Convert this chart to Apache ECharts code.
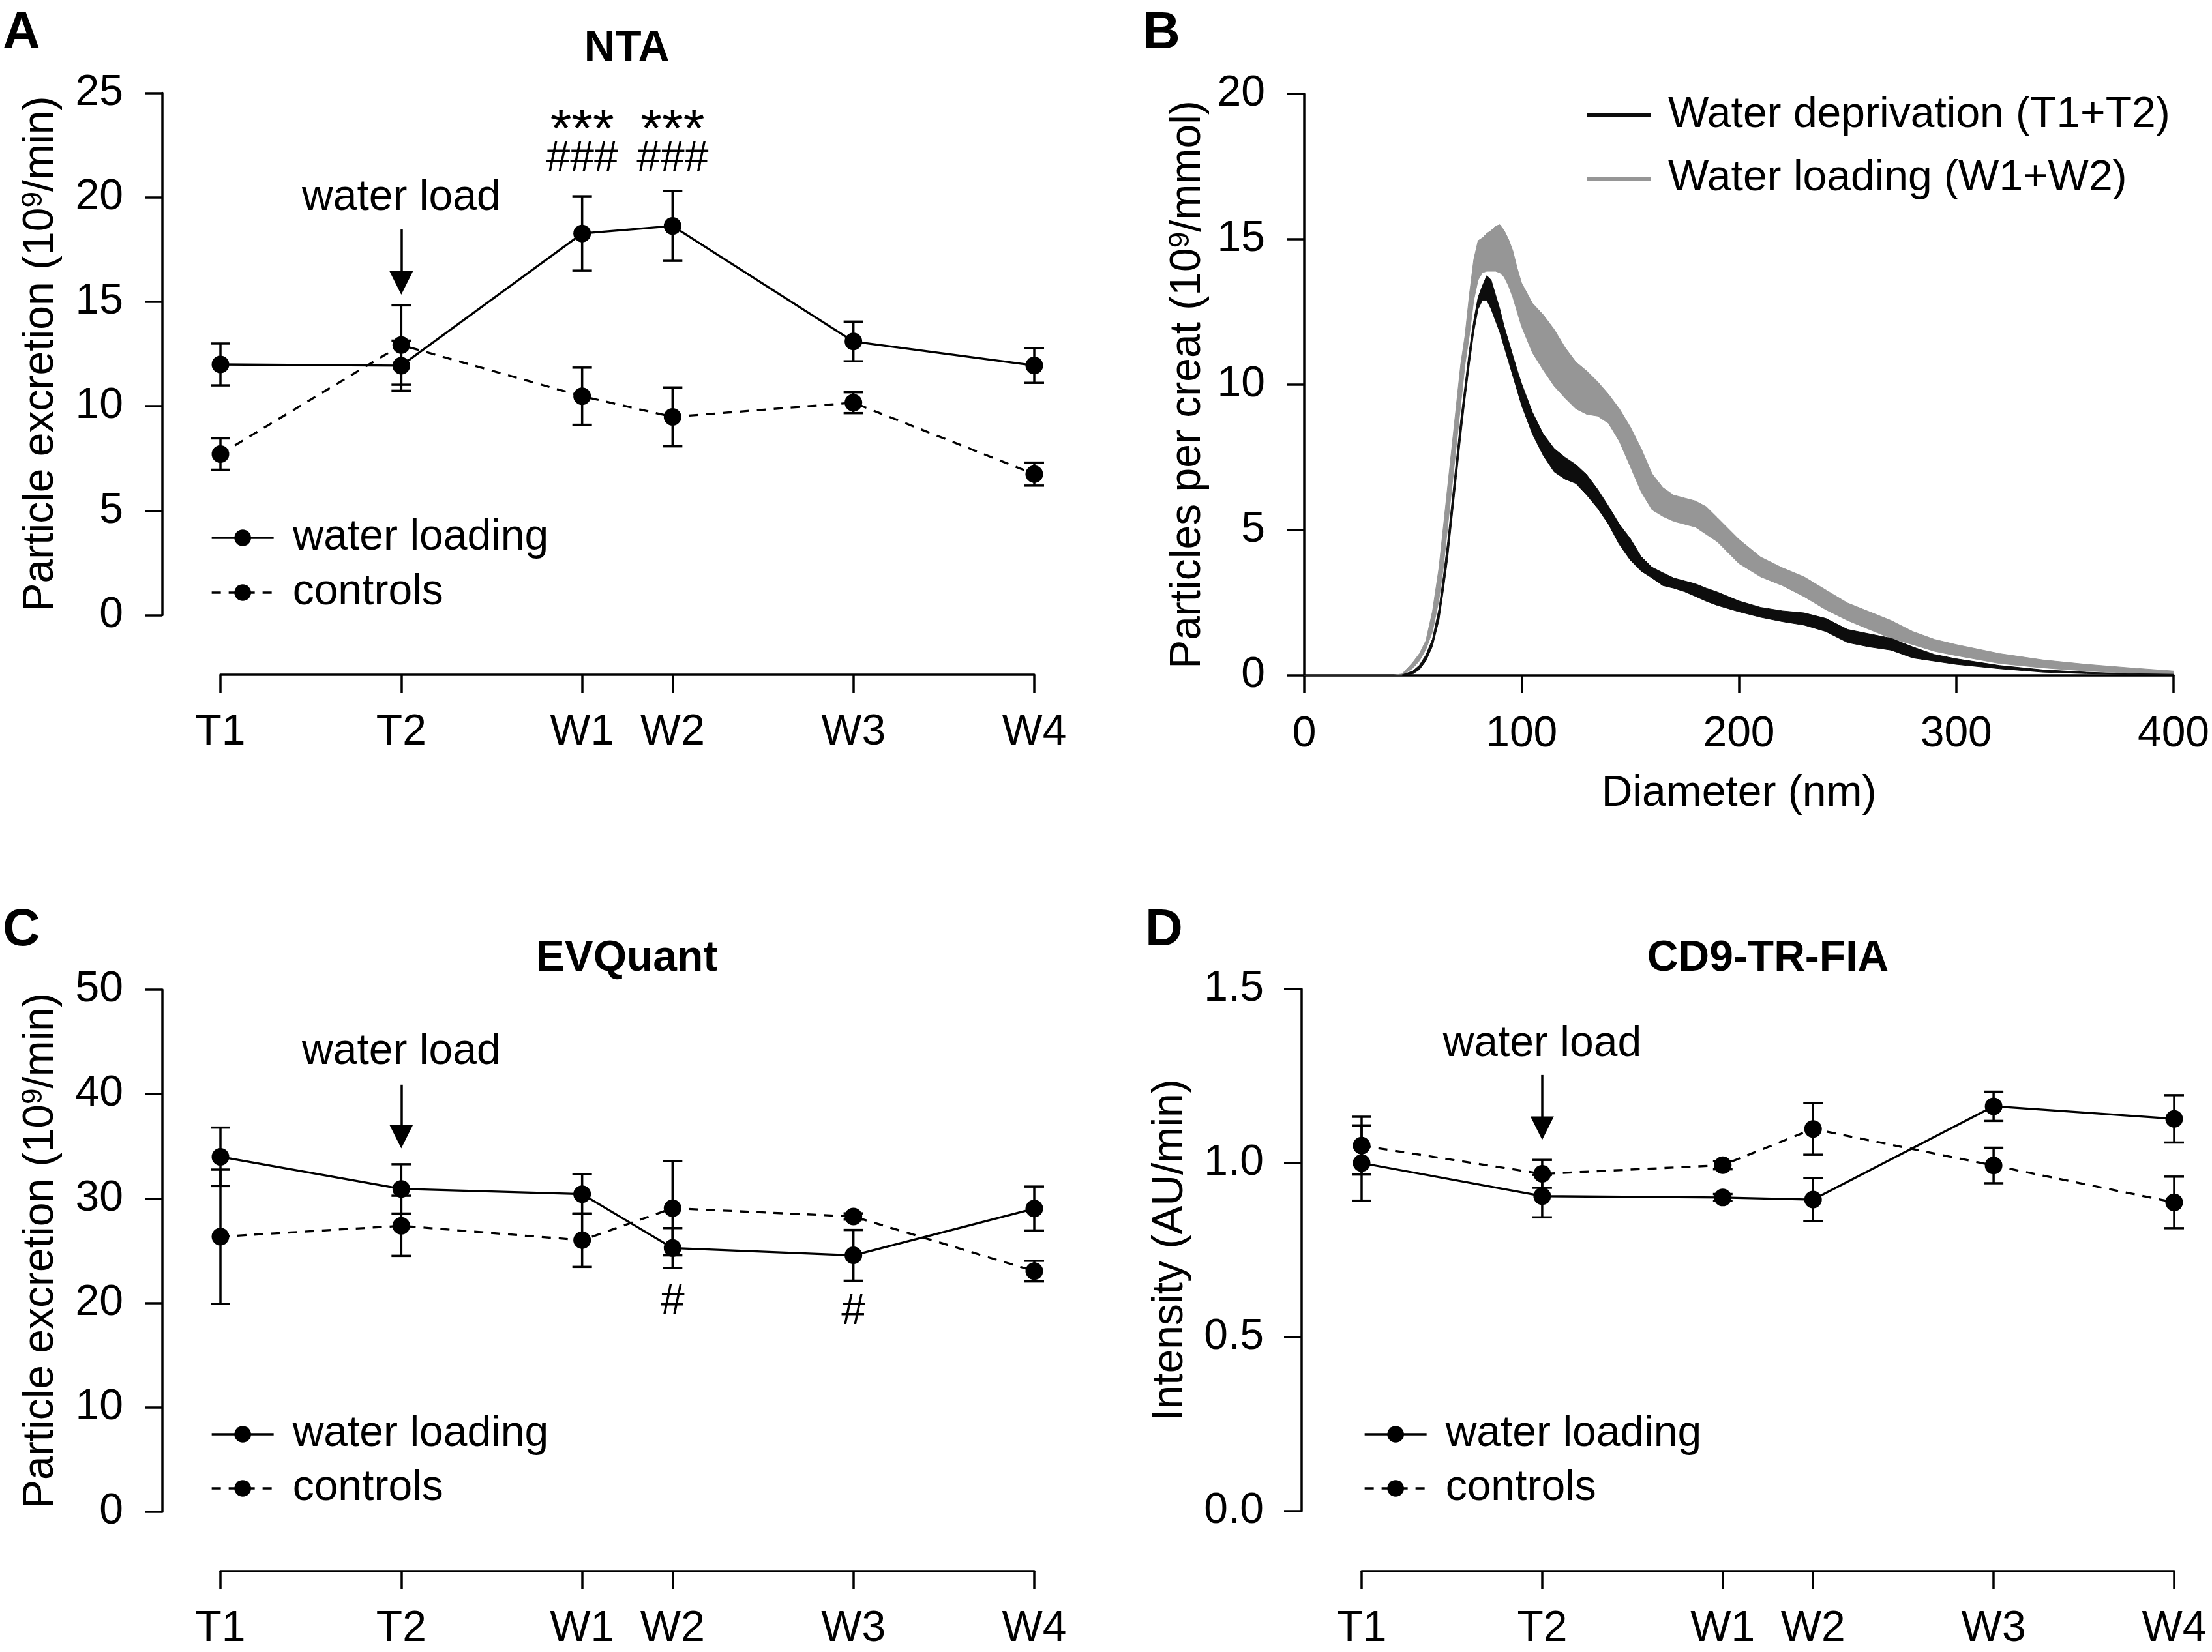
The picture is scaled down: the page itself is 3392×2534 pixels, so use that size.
<!DOCTYPE html>
<html>
<head>
<meta charset="utf-8">
<title>Urinary EV excretion</title>
<script src="https://cdn.jsdelivr.net/npm/echarts@6/dist/echarts.min.js"></script>
<style>
  html, body { margin: 0; padding: 0; background: #fff; }
  #chart { width: 3392px; height: 2534px; }
</style>
</head>
<body>
<div id="chart"></div>
<script>
// sampling points, x position follows the sampling schedule
const timeLabels = ['T1', 'T2', 'W1', 'W2', 'W3', 'W4']
const timePos = [0, 1, 2, 2.5, 3.5, 4.5]

// A - NTA, particle excretion (10^9/min), mean and SEM
const ntaWater = [12.0, 11.94, 18.27, 18.63, 13.1, 11.95]
const ntaWaterSem = [1.0, 1.2, 1.78, 1.67, 0.95, 0.83]
const ntaCtrl = [7.71, 12.93, 10.48, 9.49, 10.17, 6.75]
const ntaCtrlSem = [0.75, 1.9, 1.37, 1.41, 0.5, 0.55]

// C - EVQuant
const evqWater = [33.99, 30.92, 30.42, 25.26, 24.56, 29.04]
const evqWaterSem = [2.8, 2.36, 1.91, 1.91, 2.43, 2.1]
const evqCtrl = [26.35, 27.39, 26.01, 29.07, 28.28, 23.05]
const evqCtrlSem = [6.42, 2.88, 2.56, 4.51, 0.3, 0.99]

// D - CD9-TR-FIA, intensity (AU/min)
const cd9Water = [1.0, 0.905, 0.901, 0.895, 1.163, 1.127]
const cd9WaterSem = [0.108, 0.061, 0.01, 0.062, 0.042, 0.068]
const cd9Ctrl = [1.05, 0.969, 0.994, 1.098, 0.993, 0.887]
const cd9CtrlSem = [0.083, 0.04, 0.012, 0.074, 0.051, 0.074]

// B - size distribution, particles per creat (10^9/mmol), band = mean +/- SEM
const diameter = [0, 40, 45, 50, 53, 56, 59, 62, 64, 66,
  68, 70, 72, 74, 76, 78, 80, 82, 84, 86,
  88, 90, 92, 94, 96, 98, 100, 105, 110, 115,
  120, 125, 130, 135, 140, 145, 150, 155, 160, 165,
  170, 175, 180, 185, 190, 200, 210, 220, 230, 240,
  250, 260, 270, 280, 290, 300, 320, 340, 360, 380, 400]
const loadHigh = [0, 0, 0.05, 0.45, 0.75, 1.2, 2.2, 3.7, 5.1, 6.5,
  7.9, 9.3, 10.7, 11.7, 13.1, 14.3, 14.95, 15.05, 15.2, 15.3,
  15.45, 15.5, 15.3, 15.0, 14.6, 14.0, 13.5, 12.8, 12.4, 11.9,
  11.28, 10.78, 10.47, 10.1, 9.67, 9.17, 8.55, 7.81, 6.94, 6.46,
  6.2, 6.1, 6.0, 5.8, 5.43, 4.68, 4.07, 3.7, 3.39, 2.94,
  2.49, 2.19, 1.89, 1.51, 1.24, 1.06, 0.75, 0.53, 0.38, 0.26, 0.15]
const loadLow = [0, 0, 0, 0.25, 0.5, 0.9, 1.5, 2.6, 3.7, 5.1,
  6.5, 7.9, 9.3, 10.7, 11.7, 12.9, 13.6, 13.85, 13.9, 13.9,
  13.9, 13.85, 13.7, 13.4, 13.0, 12.5, 12.0, 11.1, 10.5, 9.95,
  9.54, 9.17, 8.98, 8.92, 8.67, 8.05, 7.19, 6.32, 5.7, 5.47,
  5.3, 5.2, 5.1, 4.85, 4.6, 3.85, 3.39, 3.09, 2.71, 2.26,
  1.89, 1.58, 1.28, 1.06, 0.83, 0.68, 0.41, 0.26, 0.15, 0.08, 0.02]
const depHigh = [0, 0, 0.02, 0.15, 0.35, 0.7, 1.25, 2.3, 3.4, 4.6,
  6.0, 7.4, 8.8, 10.0, 11.2, 12.2, 13.0, 13.4, 13.75, 13.6,
  13.1, 12.6, 12.0, 11.5, 11.0, 10.5, 10.04, 9.05, 8.3, 7.8,
  7.5, 7.25, 6.9, 6.4, 5.82, 5.2, 4.71, 4.09, 3.72, 3.53,
  3.35, 3.25, 3.15, 3.0, 2.87, 2.56, 2.34, 2.22, 2.15, 1.96,
  1.58, 1.43, 1.28, 0.98, 0.72, 0.57, 0.34, 0.19, 0.11, 0.06, 0.04]
const depLow = [0, 0, 0, 0.05, 0.2, 0.5, 1.0, 1.9, 2.9, 4.0,
  5.4, 6.8, 8.2, 9.5, 10.7, 11.8, 12.6, 12.9, 12.9, 12.6,
  12.2, 11.8, 11.3, 10.8, 10.3, 9.8, 9.29, 8.3, 7.56, 7.0,
  6.75, 6.6, 6.2, 5.75, 5.2, 4.5, 3.97, 3.59, 3.35, 3.09,
  3.0, 2.88, 2.72, 2.55, 2.41, 2.19, 2.0, 1.85, 1.73, 1.51,
  1.13, 0.98, 0.87, 0.6, 0.49, 0.38, 0.23, 0.11, 0.06, 0.03, 0.02]

// annotations: [text, x, y (data units), font size]
const ntaArrow = [[1, 18.46], [1, 15.9]]
const ntaNotes = [['water load', 1, 19.97], ['***', 2, 23.11, 84], ['***', 2.5, 23.11, 84], ['###', 2, 21.85], ['###', 2.5, 21.85]]
const evqArrow = [[1, 40.9], [1, 35.92]]
const evqNotes = [['water load', 1, 44.0], ['#', 2.5, 20.05], ['#', 3.5, 19.1]]
const cd9Arrow = [[1, 1.253], [1, 1.10]]
const cd9Notes = [['water load', 1, 1.342]]

const FONT = '"Liberation Sans", Arial, Helvetica, sans-serif'
const FS = 66
const LW = 3.5

function pairs(xs, ys) {
  return xs.map((x, i) => [x, ys[i]])
}

function errData(mean, sem) {
  return timePos.map((x, i) => [x, mean[i] - sem[i], mean[i] + sem[i]])
}

function renderErr(params, api) {
  const x = api.value(0)
  const top = api.coord([x, api.value(2)])
  const bot = api.coord([x, api.value(1)])
  const half = 15
  const style = { stroke: '#000', lineWidth: LW }
  return {
    type: 'group',
    children: [
      { type: 'line', shape: { x1: top[0], y1: top[1], x2: bot[0], y2: bot[1] }, style: style },
      { type: 'line', shape: { x1: top[0] - half, y1: top[1], x2: top[0] + half, y2: top[1] }, style: style },
      { type: 'line', shape: { x1: bot[0] - half, y1: bot[1], x2: bot[0] + half, y2: bot[1] }, style: style }
    ]
  }
}

// whole band as one polygon, drawn once from the first item
function renderBand(params, api) {
  if (params.dataIndexInside !== 0) return null
  const n = params.dataInsideLength
  const upper = []
  const lower = []
  for (let i = 0; i < n; i++) {
    const x = api.value(0, i)
    upper.push(api.coord([x, api.value(2, i)]))
    lower.unshift(api.coord([x, api.value(1, i)]))
  }
  const color = api.visual('color')
  return {
    type: 'polygon',
    shape: { points: upper.concat(lower) },
    style: { fill: color, stroke: color, lineWidth: 1 }
  }
}

function timeX(gi, offset) {
  return {
    type: 'value', gridIndex: gi, min: 0, max: 4.5, offset: offset,
    axisLine: { show: true, onZero: false, lineStyle: { color: '#000', width: LW } },
    axisTick: { show: true, length: 28, customValues: timePos, lineStyle: { color: '#000', width: LW } },
    axisLabel: {
      customValues: timePos, fontSize: FS, color: '#000', fontFamily: FONT, margin: 56,
      formatter: v => timeLabels[timePos.indexOf(v)]
    },
    splitLine: { show: false }
  }
}

function valueY(gi, max, interval, name, gap, offset, digits, margin) {
  return {
    type: 'value', gridIndex: gi, min: 0, max: max, interval: interval, offset: offset,
    name: name, nameLocation: 'middle', nameGap: gap, nameMoveOverlap: false,
    nameTextStyle: {
      fontSize: FS, color: '#000', fontFamily: FONT,
      rich: { sup: { fontSize: 44, color: '#000', fontFamily: FONT, verticalAlign: 'top' } }
    },
    axisLine: { show: true, onZero: false, lineStyle: { color: '#000', width: LW } },
    axisTick: { show: true, length: 27, lineStyle: { color: '#000', width: LW } },
    axisLabel: { fontSize: FS, color: '#000', fontFamily: FONT, margin: margin, formatter: v => v.toFixed(digits) },
    splitLine: { show: false }
  }
}

function notes(list) {
  return {
    silent: true, animation: false,
    symbol: 'circle', symbolSize: 1,
    itemStyle: { color: 'rgba(0,0,0,0)' },
    label: { show: true, position: 'inside', color: '#000', fontSize: FS, fontFamily: FONT, formatter: p => p.name },
    data: list.map(n => ({ name: n[0], coord: [n[1], n[2]], label: { fontSize: n[3] || FS } }))
  }
}

function arrow(pts) {
  return {
    silent: true, animation: false,
    symbol: ['none', 'triangle'], symbolSize: 36,
    lineStyle: { color: '#000', width: LW, type: 'solid' },
    itemStyle: { color: '#000' },
    label: { show: false },
    data: [[{ coord: pts[0] }, { coord: pts[1] }]]
  }
}

function timeSeries(gi, water, waterSem, ctrl, ctrlSem, arrowPts, noteList) {
  return [
    { name: 'err', type: 'custom', xAxisIndex: gi, yAxisIndex: gi, silent: true, renderItem: renderErr, data: errData(water, waterSem) },
    { name: 'err', type: 'custom', xAxisIndex: gi, yAxisIndex: gi, silent: true, renderItem: renderErr, data: errData(ctrl, ctrlSem) },
    {
      name: 'water loading', type: 'line', xAxisIndex: gi, yAxisIndex: gi, clip: false,
      data: pairs(timePos, water), symbol: 'circle', symbolSize: 27,
      itemStyle: { color: '#000' }, lineStyle: { color: '#000', width: 3.3 },
      markLine: arrow(arrowPts), markPoint: notes(noteList)
    },
    {
      name: 'controls', type: 'line', xAxisIndex: gi, yAxisIndex: gi, clip: false,
      data: pairs(timePos, ctrl), symbol: 'circle', symbolSize: 27,
      itemStyle: { color: '#000' }, lineStyle: { color: '#000', width: 3.3, type: [14, 12] }
    }
  ]
}

function bandSeries(name, low, high, color) {
  return {
    name: name, type: 'custom', xAxisIndex: 1, yAxisIndex: 1, silent: true,
    itemStyle: { color: color },
    renderItem: renderBand,
    data: diameter.map((d, i) => [d, low[i], high[i]])
  }
}

function lineLegend(left, top, gap) {
  return {
    orient: 'vertical', left: left, top: top, padding: 0, itemGap: gap,
    itemWidth: 95, itemHeight: 32, selectedMode: false,
    lineStyle: { width: 3.3 },
    textStyle: { fontSize: FS, color: '#000', fontFamily: FONT, padding: [0, 0, 0, 24] },
    data: ['water loading', 'controls']
  }
}

function label(text, x, y, size, align) {
  return {
    type: 'text', x: x, y: y,
    style: {
      text: text, fill: '#000', font: 'bold ' + size + 'px ' + FONT,
      align: align, verticalAlign: 'middle', textAlign: align, textVerticalAlign: 'middle'
    }
  }
}

const chart = echarts.init(document.getElementById('chart'), null, { renderer: 'canvas' })

chart.setOption({
  animation: false,
  backgroundColor: '#fff',
  textStyle: { fontFamily: FONT },
  grid: [
    { left: 338, top: 142.5, width: 1248, height: 801, outerBoundsMode: 'none' },
    { left: 2000, top: 144, width: 1333, height: 892, outerBoundsMode: 'none' },
    { left: 338, top: 1518, width: 1248, height: 801, outerBoundsMode: 'none' },
    { left: 2088, top: 1517, width: 1246, height: 801, outerBoundsMode: 'none' }
  ],
  xAxis: [
    timeX(0, 91.5),
    {
      type: 'value', gridIndex: 1, min: 0, max: 400, interval: 100,
      name: 'Diameter (nm)', nameLocation: 'middle', nameGap: 149, nameMoveOverlap: false,
      nameTextStyle: { fontSize: FS, color: '#000', fontFamily: FONT },
      axisLine: { show: true, onZero: false, lineStyle: { color: '#000', width: LW } },
      axisTick: { show: true, length: 27, lineStyle: { color: '#000', width: LW } },
      axisLabel: { fontSize: FS, color: '#000', fontFamily: FONT, margin: 58 },
      splitLine: { show: false }
    },
    timeX(2, 91),
    timeX(3, 92)
  ],
  yAxis: [
    valueY(0, 25, 5, 'Particle excretion (10{sup|9}/min)', 153, 89, 0, 60),
    valueY(1, 20, 5, 'Particles per creat (10{sup|9}/mmol)', 145, 0, 0, 60),
    valueY(2, 50, 10, 'Particle excretion (10{sup|9}/min)', 153, 89, 0, 60),
    valueY(3, 1.5, 0.5, 'Intensity (AU/min)', 168, 92, 1, 58)
  ],
  legend: [
    lineLegend(323, 792, 18),
    {
      orient: 'vertical', left: 2433, top: 144, padding: 0, itemGap: 31,
      icon: 'rect', itemWidth: 98, itemHeight: 6, selectedMode: false,
      textStyle: { fontSize: FS, color: '#000', fontFamily: FONT, padding: [0, 0, 0, 22] },
      data: ['Water deprivation (T1+T2)', 'Water loading (W1+W2)']
    },
    lineLegend(323, 2167, 17),
    lineLegend(2091, 2167, 17)
  ],
  graphic: [
    label('A', 4, 52, 80, 'left'),
    label('B', 1752, 52, 80, 'left'),
    label('C', 4, 1428, 80, 'left'),
    label('D', 1756, 1428, 80, 'left'),
    label('NTA', 961, 75, FS, 'center'),
    label('EVQuant', 961, 1471, FS, 'center'),
    label('CD9-TR-FIA', 2711, 1471, FS, 'center')
  ],
  series: [].concat(
    timeSeries(0, ntaWater, ntaWaterSem, ntaCtrl, ntaCtrlSem, ntaArrow, ntaNotes),
    bandSeries('Water loading (W1+W2)', loadLow, loadHigh, '#969696'),
    bandSeries('Water deprivation (T1+T2)', depLow, depHigh, '#0d0d0d'),
    timeSeries(2, evqWater, evqWaterSem, evqCtrl, evqCtrlSem, evqArrow, evqNotes),
    timeSeries(3, cd9Water, cd9WaterSem, cd9Ctrl, cd9CtrlSem, cd9Arrow, cd9Notes)
  )
})
</script>
</body>
</html>
